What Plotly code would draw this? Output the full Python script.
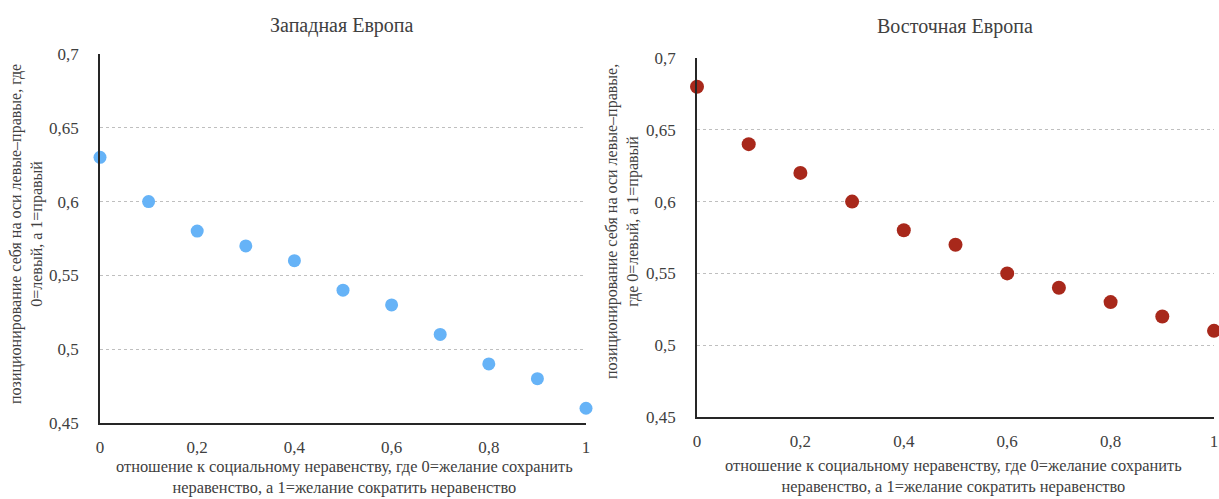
import plotly.graph_objects as go

W, H = 1219, 499

x_vals = [0, 0.1, 0.2, 0.3, 0.4, 0.5, 0.6, 0.7, 0.8, 0.9, 1.0]
west_vals = [0.63, 0.60, 0.58, 0.57, 0.56, 0.54, 0.53, 0.51, 0.49, 0.48, 0.46]
east_vals = [0.68, 0.64, 0.62, 0.60, 0.58, 0.57, 0.55, 0.54, 0.53, 0.52, 0.51]

titles = ["Западная Европа", "Восточная Европа"]
x_title = "отношение к социальному неравенству, где 0=желание сохранить<br>неравенство, а 1=желание сократить неравенство"
y_title_left = "позиционирование себя на оси левые–правые, где<br>0=левый, а 1=правый"
y_title_right = "позиционирование себя на оси левые–правые,<br>где 0=левый, а 1=правый"

x_ticks = [0, 0.2, 0.4, 0.6, 0.8, 1.0]
y_ticks = [0.45, 0.5, 0.55, 0.6, 0.65, 0.7]

FONT = "Liberation Serif"
TXT = "#404040"

def px_x(p):
    return p / W

def px_y(p):
    return 1 - p / H

fig = go.Figure()
fig.add_trace(go.Scatter(x=x_vals, y=west_vals, mode="markers", xaxis="x", yaxis="y",
                         marker=dict(size=13, color="#66B3F7", line=dict(width=0)),
                         cliponaxis=False, showlegend=False))
fig.add_trace(go.Scatter(x=x_vals, y=east_vals, mode="markers", xaxis="x2", yaxis="y2",
                         marker=dict(size=14, color="#A8281B", line=dict(width=0)),
                         cliponaxis=False, showlegend=False))

def xaxis(domain, anchor):
    return dict(domain=domain, anchor=anchor, range=[0, 1], tickvals=x_ticks, automargin=False,
                showgrid=False, zeroline=False, showline=True, linecolor="#262626", linewidth=1.5,
                ticks="", ticklabelstandoff=8,
                tickfont=dict(family=FONT, size=17, color=TXT))

def yaxis(domain, anchor):
    return dict(domain=domain, anchor=anchor, range=[0.45, 0.7], tickvals=y_ticks, automargin=False,
                showgrid=True, gridcolor="#BFBFBF", griddash="dot", gridwidth=1,
                zeroline=False, showline=True, linecolor="#262626", linewidth=1.5,
                ticks="", ticklabelstandoff=16,
                tickfont=dict(family=FONT, size=17, color=TXT))

fig.update_layout(
    width=W, height=H,
    margin=dict(l=0, r=0, t=0, b=0, autoexpand=False),
    paper_bgcolor="white", plot_bgcolor="white",
    separators=", ",
    font=dict(family=FONT, color=TXT),
    xaxis=xaxis([px_x(100), px_x(586)], "y"),
    yaxis=yaxis([px_y(423), px_y(54)], "x"),
    xaxis2=xaxis([px_x(697), px_x(1214)], "y2"),
    yaxis2=yaxis([px_y(417), px_y(58)], "x2"),
)

annots = [
    dict(text=titles[0], x=px_x(342), y=px_y(25), font=dict(size=20)),
    dict(text=titles[1], x=px_x(955), y=px_y(27), font=dict(size=20)),
    dict(text=x_title, x=px_x(344), y=px_y(477), font=dict(size=16.4)),
    dict(text=x_title, x=px_x(953), y=px_y(476), font=dict(size=16.4)),
    dict(text=y_title_left, x=px_x(26), y=px_y(234), font=dict(size=16), textangle=-90),
    dict(text=y_title_right, x=px_x(622), y=px_y(222), font=dict(size=16), textangle=-90),
]
for a in annots:
    a["font"].update(family=FONT, color=TXT)
    fig.add_annotation(xref="paper", yref="paper", showarrow=False, align="center",
                       xanchor="center", yanchor="middle", **a)

post = (
    "document.documentElement.style.overflow='hidden';"
    "document.body.style.margin='0';document.body.style.padding='0';document.body.style.overflow='hidden';"
)
fig.write_html("out.html", config={"displayModeBar": False}, post_script=post)
